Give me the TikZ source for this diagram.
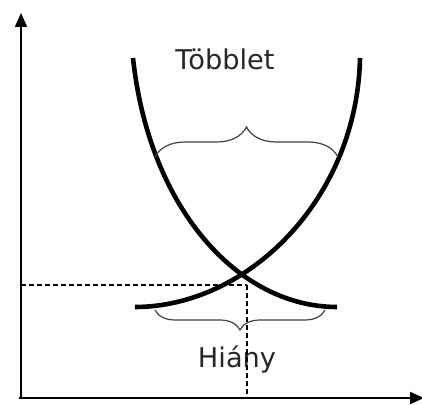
\documentclass[tikz,border=0pt]{standalone}
\usepackage{fontspec}
\setmainfont{DejaVu Sans}
\usepackage{tikz}
\usetikzlibrary{arrows.meta, decorations.pathreplacing}

\begin{document}
\begin{tikzpicture}[
  x=0.5pt, y=-0.5pt,
  axis/.style={line width=1pt, -{Triangle[length=7pt, width=6pt]}},
  curve/.style={line width=2.3pt},
  guide/.style={line width=0.6pt, dash pattern=on 2.5pt off 1.5pt},
  bracket/.style={draw=black!75, line width=0.6pt, decorate},
  label/.style={text=black!85, font=\fontsize{13.6pt}{16pt}\selectfont,
                anchor=base, inner sep=0pt}
]
  \useasboundingbox (0,0) rectangle (422,405);

  % axes
  \coordinate (origin) at (21,398);
  \coordinate (ytip) at (21,13);
  \coordinate (xtip) at (424,398);
  \draw[axis] (origin) -- (ytip);
  \draw[axis] ([xshift=-1pt]origin) -- (xtip);

  % labels
  \node[label] (tobblet) at (225,70) {Többlet};
  \node[label] (hiany) at (237,367) {Hiány};

  % the two curves
  \coordinate (fallTop) at (133,58);
  \coordinate (fallEnd) at (337,307);
  \coordinate (riseStart) at (135,307);
  \coordinate (riseTop) at (360,58);
  \draw[curve] (fallTop) .. controls (149,208) and (238,307) .. (fallEnd);
  \draw[curve] (riseStart) .. controls (247,307) and (357,200) .. (riseTop);

  % braces
  \coordinate (topL) at (155,157);
  \coordinate (topR) at (338,157);
  \coordinate (lowL) at (155,310);
  \coordinate (lowR) at (325,310);
  \draw[bracket, decoration={brace, amplitude=15pt}] (topL) -- (topR);
  \draw[bracket, decoration={brace, mirror, amplitude=10pt}] (lowL) -- (lowR);

  % equilibrium guides
  \coordinate (eq) at (247,285);
  \draw[guide] (origin |- eq) -- (eq);
  \draw[guide] (eq) -- (eq |- origin);
\end{tikzpicture}
\end{document}
